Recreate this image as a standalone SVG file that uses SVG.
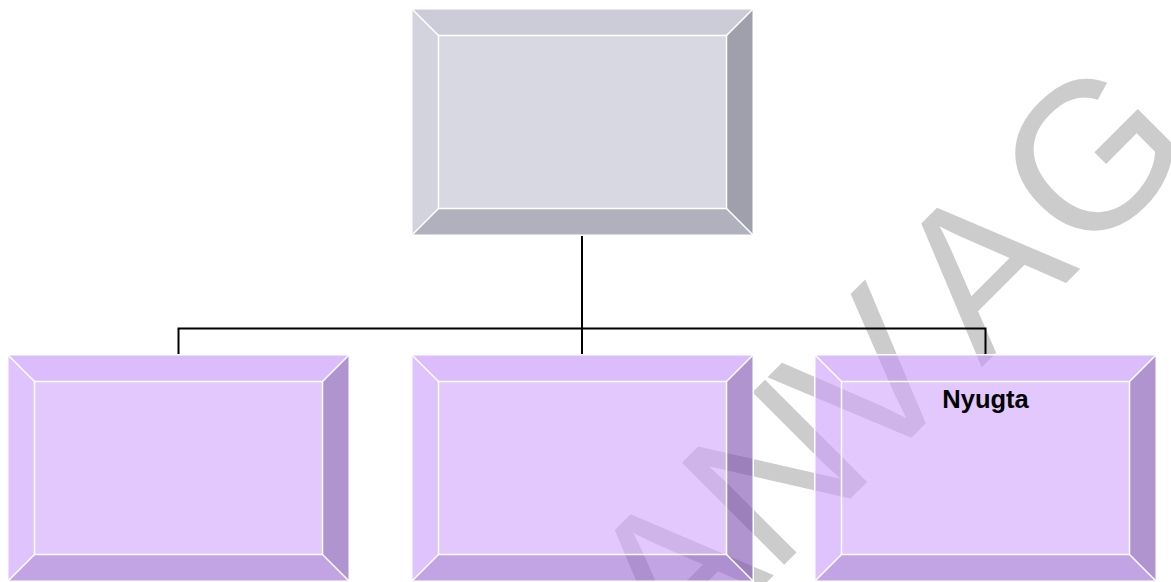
<svg xmlns="http://www.w3.org/2000/svg" xmlns:xlink="http://www.w3.org/1999/xlink" width="1171" height="582" viewBox="0 0 1171 582">
  <style>
    .wm { font-family: "Liberation Sans", Arial, sans-serif; font-size: 210px; fill: #cccccc; }
    .link { fill: none; stroke: #000000; stroke-width: 2; }
    .edge { fill: none; stroke: #ffffff; stroke-width: 1.5; }
    .bt { fill: var(--top); fill-opacity: var(--alpha); }
    .bl { fill: var(--left); fill-opacity: var(--alpha); }
    .bf { fill: var(--face); fill-opacity: var(--alpha); }
    .br { fill: var(--right); fill-opacity: var(--alpha); }
    .bb { fill: var(--bottom); fill-opacity: var(--alpha); }
    .purple { --top: #c391f8; --left: #ca9bfa; --face: #cfa3fa; --right: #7a4daf; --bottom: #9966d0; --alpha: 0.6; }
    .grey { --top: #ccccd8; --left: #d3d3de; --face: #d8d8e2; --right: #a0a0ac; --bottom: #b1b1be; --alpha: 1; }
    .label { font-family: "Liberation Sans", Arial, sans-serif; font-size: 25.5px; font-weight: bold; fill: #000000; }
  </style>
  <defs>
    <!-- bevelled box, 343 x 228, bevel 27.5 -->
    <g id="bevel">
      <polygon class="bt" points="0,0 343,0 315.5,27.5 27.5,27.5"/>
      <polygon class="bb" points="0,228 343,228 315.5,200.5 27.5,200.5"/>
      <polygon class="bl" points="0,0 27.5,27.5 27.5,200.5 0,228"/>
      <polygon class="br" points="343,0 315.5,27.5 315.5,200.5 343,228"/>
      <rect class="bf" x="27.5" y="27.5" width="288" height="173"/>
      <rect class="edge" x="0.75" y="0.75" width="341.5" height="226.5"/>
      <rect class="edge" x="27.5" y="27.5" width="288" height="173"/>
      <path class="edge" d="M0,0 L27.5,27.5 M343,0 L315.5,27.5 M0,228 L27.5,200.5 M343,228 L315.5,200.5"/>
    </g>
  </defs>

  <!-- diagonal watermark -->
  <g id="watermark">
    <text class="wm" transform="translate(674.5,674.5) rotate(-45)" x="0.7 138 275 434 580" y="0">ANVAG</text>
  </g>

  <!-- org-chart connectors -->
  <g id="connectors">
    <path class="link" d="M582,236 V354"/>
    <path class="link" d="M178.5,354 V328.5 H985.5 V354"/>
  </g>

  <g id="node-root" class="grey">
    <use xlink:href="#bevel" x="411" y="8"/>
  </g>
  <g id="node-1" class="purple">
    <use xlink:href="#bevel" x="7" y="354"/>
  </g>
  <g id="node-2" class="purple">
    <use xlink:href="#bevel" x="411" y="354"/>
  </g>
  <g id="node-3" class="purple">
    <use xlink:href="#bevel" x="814" y="354"/>
    <text class="label" x="985.5" y="408" text-anchor="middle">Nyugta</text>
  </g>
</svg>
